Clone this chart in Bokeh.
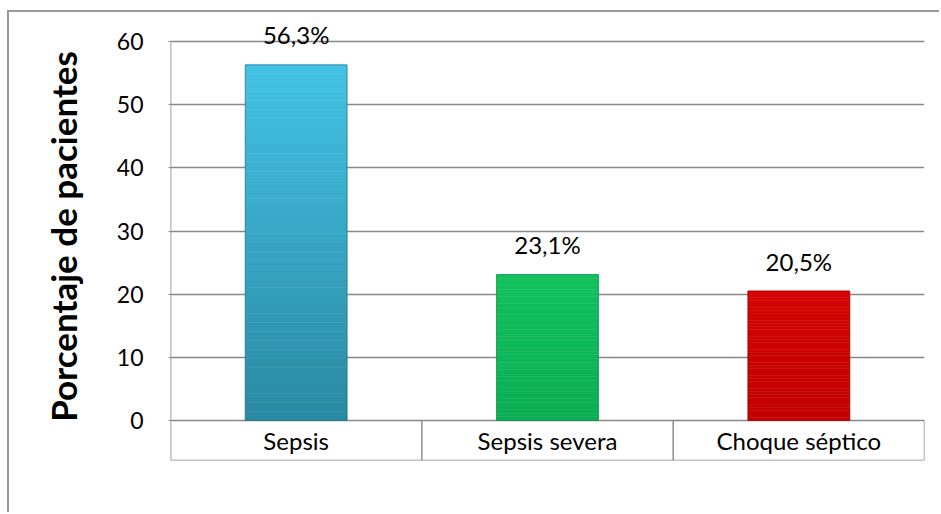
from bokeh.plotting import figure
from bokeh.models import Range1d, FixedTicker, ColumnDataSource
from bokeh.core.properties import value
from bokeh.embed import file_html
from bokeh.resources import INLINE

categories = ["Sepsis", "Sepsis severa", "Choque séptico"]
values = [56.3, 23.1, 20.5]
labels = ["56,3%", "23,1%", "20,5%"]
y_ticks = [0, 10, 20, 30, 40, 50, 60]

top_colors = ["#43C1E4", "#12C15E", "#D40404"]
bottom_colors = ["#2A8AA3", "#0AAE52", "#C20000"]

FONT = "Lato"
GRID = "#878787"

# page geometry (absolute pixels in the window)
OFF_X, OFF_Y = 9, 12           # where the canvas starts (inside outer border)
W, H = 941 - OFF_X, 514 - OFF_Y
PLOT_L, PLOT_R = 170, 924      # plot area left/right
Y60, Y0, BAND_B = 41, 420, 460 # gridline 60, gridline 0, category band bottom
y_max = 60
ppu = (Y0 - Y60) / y_max
range_top = y_max + (Y60 - OFF_Y) / ppu
range_bot = -(BAND_B - Y0) / ppu

p = figure(width=W, height=H, output_backend="svg", toolbar_location=None,
           x_range=Range1d(0, len(categories)),
           y_range=Range1d(range_bot, range_top),
           min_border_left=PLOT_L - OFF_X, min_border_right=OFF_X + W - PLOT_R,
           min_border_top=0, min_border_bottom=OFF_Y + H - BAND_B,
           background_fill_color="white", border_fill_color="white")
p.styles = {"margin-left": "7px", "margin-top": "10px",
            "border-left": "2px solid #9a9a9a", "border-top": "2px solid #9a9a9a"}
p.outline_line_color = None
p.xaxis.visible = False
p.xgrid.visible = False

p.ygrid.ticker = FixedTicker(ticks=y_ticks)
p.ygrid.grid_line_color = GRID
p.ygrid.grid_line_width = 1.4

ax = p.yaxis[0]
ax.ticker = FixedTicker(ticks=y_ticks)
ax.axis_line_color = None
ax.major_tick_out = 2
ax.major_tick_in = 0
ax.major_tick_line_color = GRID
ax.minor_tick_line_color = None
ax.major_label_text_font = FONT
ax.major_label_text_font_size = "23px"
ax.major_label_text_color = "#000000"
ax.major_label_standoff = 25
ax.axis_label = "Porcentaje de pacientes"
ax.axis_label_text_font = FONT
ax.axis_label_text_font_style = "bold"
ax.axis_label_text_font_size = "35px"
ax.axis_label_text_color = "#000000"
ax.axis_label_standoff = 30

# vertical axis line from band bottom to 60
p.segment(x0=[0], x1=[0], y0=[range_bot], y1=[y_max], line_color=GRID, line_width=1.6)

xc = [i + 0.5 for i in range(len(categories))]
bar_w = 0.405

n_steps = 40
def blend(c1, c2, t):
    a = [int(c1[i:i + 2], 16) for i in (1, 3, 5)]
    b = [int(c2[i:i + 2], 16) for i in (1, 3, 5)]
    return "#%02x%02x%02x" % tuple(int(round(a[k] + (b[k] - a[k]) * t)) for k in range(3))

seg_x, seg_b, seg_t, seg_c = [], [], [], []
for i, v in enumerate(values):
    for s in range(n_steps):
        seg_x.append(xc[i])
        seg_b.append(v * s / n_steps)
        seg_t.append(v * (s + 1) / n_steps)
        seg_c.append(blend(bottom_colors[i], top_colors[i], s / (n_steps - 1)))
p.vbar(x=seg_x, bottom=seg_b, top=seg_t, width=bar_w, fill_color=seg_c,
       line_color=seg_c, line_width=0.5)

src = ColumnDataSource(dict(x=xc, v=values, lab=labels, cat=categories,
                            edge=[blend(bottom_colors[i], "#000000", 0.25) for i in range(3)]))
p.vbar(x="x", top="v", bottom=0, width=bar_w, source=src, fill_color=None,
       line_color="edge", line_width=1, line_alpha=0.6)

p.text(x="x", y="v", text="lab", source=src, text_align="center",
       text_baseline="alphabetic", y_offset=-30, text_font=value(FONT),
       text_font_size="24px", text_color="#000000")

# category band
p.text(x="x", y=range_bot / 2, text="cat", source=src, text_align="center",
       text_baseline="middle", text_font=value(FONT), text_font_size="24px",
       text_color="#000000")
bounds = [i + 1 for i in range(len(categories))]
p.segment(x0=bounds, x1=bounds, y0=[0] * 3, y1=[range_bot] * 3,
          line_color=GRID, line_width=1.4)
p.segment(x0=[0], x1=[len(categories)], y0=[range_bot], y1=[range_bot],
          line_color=GRID, line_width=1.6)

open("out.html", "w").write(file_html(p, INLINE))
